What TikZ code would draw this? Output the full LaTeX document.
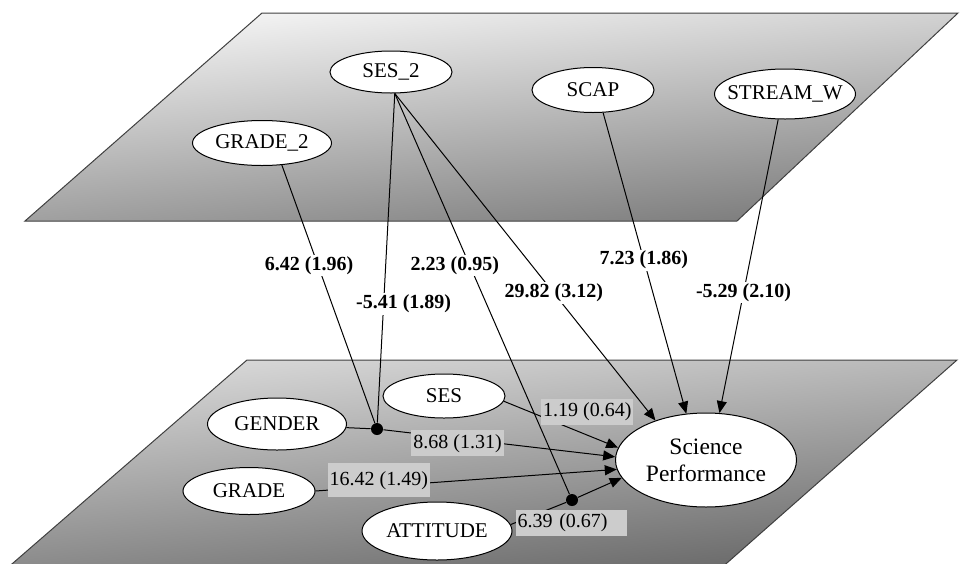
\documentclass[tikz,border=0pt]{standalone}
\usepackage{fontspec}
\setmainfont{Liberation Serif}
\usetikzlibrary{shapes.geometric,arrows.meta}
\definecolor{boxgray}{RGB}{204,204,204}

\tikzset{
  var/.style={ellipse, draw, fill=white, inner xsep=-10pt, inner ysep=0pt,
    font=\fontsize{21}{24}\selectfont},
  knot/.style={circle, fill=black, inner sep=0pt, minimum size=12pt},
  coef/.style={fill=white, inner sep=1.5pt, font=\fontsize{20}{22}\selectfont\bfseries},
  coefin/.style={fill=boxgray, inner xsep=2pt, inner ysep=4pt, font=\fontsize{20}{22}\selectfont},
  arr/.style={-{Triangle[length=12pt,width=10pt]}},
  plane/.style={draw=black!75, line width=1pt}
}

\begin{document}
\begin{tikzpicture}[x=1pt, y=-1pt, line width=1pt]
  \useasboundingbox (0,0) rectangle (961,563);
  % the two levels
  \shade[plane, top color=black!3, bottom color=black!52, shading angle=6]
    (262,13) -- (958,13) -- (737,221) -- (25,221) -- cycle;
  \shade[plane, top color=black!14, middle color=black!4, bottom color=black!60, shading angle=6]
    (5,570) -- (247,360) -- (957,360) -- (719,570);

  % level 2 variables
  \node[var, minimum width=122pt, minimum height=42pt] (SES2) at (391,72) {SES\_2};
  \node[var, minimum width=139pt, minimum height=45pt] (GRADE2) at (262,143) {GRADE\_2};
  \node[var, minimum width=122pt, minimum height=45pt] (SCAP) at (593,90) {SCAP};
  \node[var, minimum width=141pt, minimum height=50pt] (STREAMW) at (785,94) {STREAM\_W};

  % level 1 variables
  \node[var, minimum width=139pt, minimum height=52pt] (GENDER) at (277,424) {GENDER};
  \node[var, minimum width=122pt, minimum height=44pt] (SES) at (444,396) {SES};
  \node[var, minimum width=132pt, minimum height=47pt] (GRADE) at (249,491) {GRADE};
  \node[var, minimum width=150pt, minimum height=58pt] (ATTITUDE) at (437,531) {ATTITUDE};
  \node[var, minimum width=181pt, minimum height=94pt, align=center,
    font=\fontsize{23.5}{27}\selectfont] (SCIPERF) at (706,460) {Science\\Performance};

  % cross-level interactions
  \node[knot] (K1) at (377,429) {};
  \node[knot] (K2) at (572,500) {};

  \draw (GRADE2.-48) -- node[coef, pos=0.39, xshift=-9pt] {6.42 (1.96)} (K1);
  \draw (SES2.-80) -- node[coef, pos=0.64, xshift=20pt] {-5.41 (1.89)} (K1);
  \draw (SES2.-80) -- node[coef, pos=0.43, xshift=-15pt] {2.23 (0.95)} (K2);
  \draw[arr] (SES2.-80) -- node[coef, pos=0.61] {29.82 (3.12)} (SCIPERF.142);
  \draw[arr] (SCAP.-66) -- node[coef, pos=0.49] {7.23 (1.86)} (SCIPERF.113);
  \draw[arr] (STREAMW.-105) -- node[coef, pos=0.59] {-5.29 (2.10)} (SCIPERF.74);

  \draw[arr] (SES.-5) -- node[coefin, pos=0.45, xshift=32pt, yshift=10pt] {1.19 (0.64)} (SCIPERF.172);
  \draw (GENDER.-3) -- (K1);
  \draw[arr] (K1) -- node[coefin, pos=0.32, yshift=-5pt] {8.68 (1.31)} (SCIPERF.178);
  \draw[arr] (GRADE.east) -- node[coefin, pos=0.21, yshift=6pt, minimum height=34pt] {16.42 (1.49)} (SCIPERF.186);
  \draw (ATTITUDE.5) -- node[coefin, pos=0.08, anchor=west, text width=107pt] {6.39 (0.67)} (K2);
  \draw[arr] (K2) -- (SCIPERF.192);
\end{tikzpicture}
\end{document}
